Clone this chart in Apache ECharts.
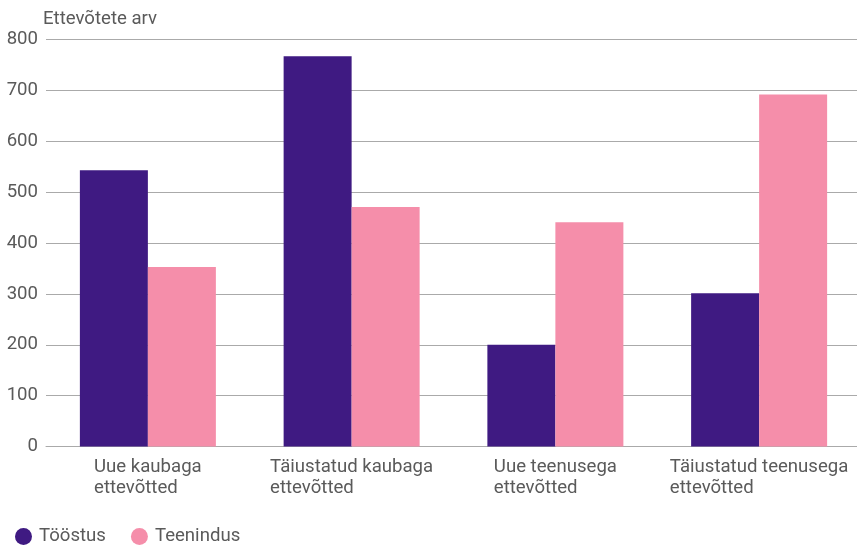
<!DOCTYPE html>
<html>
<head>
<meta charset="utf-8">
<script src="https://cdn.jsdelivr.net/npm/echarts@6/dist/echarts.min.js"></script>
<style>
  html, body { margin: 0; padding: 0; background: #fff; }
  #chart { width: 857px; height: 545px; }
</style>
</head>
<body>
<div id="chart"></div>
<script>
// Ettevõtete arv innovatsiooni liigi järgi
const categories = [
  'Uue kaubaga\nettevõtted',
  'Täiustatud kaubaga\nettevõtted',
  'Uue teenusega\nettevõtted',
  'Täiustatud teenusega\nettevõtted'
];
const toostus = [543, 767, 200, 301];
const teenindus = [353, 471, 441, 692];
const yTicks = [0, 100, 200, 300, 400, 500, 600, 700, 800];

const textColor = '#5a5a5a';
const fontFamily = 'Roboto, "Noto Sans", sans-serif';
const fs = 18.6;

const chart = echarts.init(document.getElementById('chart'), null, { renderer: 'canvas' });

chart.setOption({
  animation: false,
  textStyle: { fontFamily: fontFamily },
  grid: { left: 46, width: 815, top: 39.5, bottom: 98.5, containLabel: false, outerBoundsMode: 'none' },
  legend: {
    left: 10,
    top: 522,
    icon: 'circle',
    itemWidth: 17,
    itemHeight: 17,
    itemGap: 25,
    textStyle: { fontSize: fs, color: textColor, fontFamily: fontFamily, padding: [0, 0, 0, 2] },
    data: ['Tööstus', 'Teenindus']
  },
  xAxis: {
    type: 'category',
    data: categories,
    axisLine: { show: true, lineStyle: { color: '#aaaaaa', width: 1 } },
    axisTick: { show: false },
    axisLabel: {
      margin: 10,
      color: textColor,
      fontSize: fs,
      lineHeight: 21,
      interval: 0,
      formatter: function (v) {
        return v.split('\n').map(function (s) { return '{l|' + s + '}'; }).join('\n');
      },
      rich: {
        l: { fontSize: fs, lineHeight: 21, color: textColor, fontFamily: fontFamily, align: 'left' }
      }
    }
  },
  yAxis: {
    type: 'value',
    min: yTicks[0],
    max: yTicks[yTicks.length - 1],
    interval: 100,
    name: 'Ettevõtete arv',
    nameLocation: 'end',
    nameGap: 11,
    nameTextStyle: { fontSize: fs, color: textColor, align: 'left', padding: [0, 0, 0, -3] },
    axisLine: { show: false },
    axisTick: { show: false },
    axisLabel: { margin: 8, color: textColor, fontSize: fs },
    splitLine: { lineStyle: { color: '#aaaaaa', width: 1 } }
  },
  series: [
    {
      name: 'Tööstus',
      type: 'bar',
      data: toostus,
      barWidth: 68,
      barGap: '0%',
      itemStyle: { color: '#3f1a82' }
    },
    {
      name: 'Teenindus',
      type: 'bar',
      data: teenindus,
      barWidth: 68,
      barGap: '0%',
      itemStyle: { color: '#f58eaa' }
    }
  ]
});
</script>
</body>
</html>
